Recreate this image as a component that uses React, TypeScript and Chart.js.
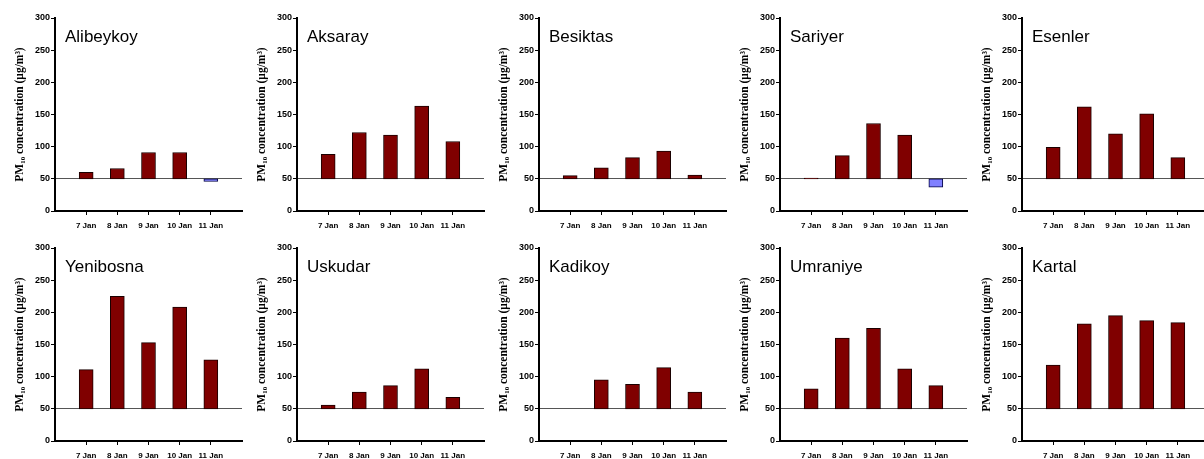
import { useEffect, useRef } from 'react';
import { Chart, registerables } from 'chart.js';

Chart.register(...registerables);

// ---- data ----
const days = ['7 Jan', '8 Jan', '9 Jan', '10 Jan', '11 Jan'];
const stations = ['Alibeykoy', 'Aksaray', 'Besiktas', 'Sariyer', 'Esenler', 'Yenibosna', 'Uskudar', 'Kadikoy', 'Umraniye', 'Kartal'];
const alibeykoy = [60, 66, 91, 91, 46];
const aksaray = [88, 122, 118, 163, 108];
const besiktas = [55, 67, 83, 93, 56];
const sariyer = [51, 86, 136, 118, 37];
const esenler = [99, 162, 120, 151, 83];
const yenibosna = [111, 225, 153, 208, 126];
const uskudar = [56, 76, 86, 112, 68];
const kadikoy = [50, 95, 88, 114, 76];
const umraniye = [81, 160, 175, 112, 86];
const kartal = [118, 182, 195, 187, 184];
const stationValues = [alibeykoy, aksaray, besiktas, sariyer, esenler, yenibosna, uskudar, kadikoy, umraniye, kartal];
const limitValue = 50;
const yMin = 0;
const yMax = 300;
const yStep = 50;
const yTitle = 'PM₁₀ concentration (μg/m³)';

const SANS = '"Liberation Sans", Arial, Helvetica, sans-serif';
const SERIF = '"Liberation Serif", "Times New Roman", serif';

const namePlugin = {
  id: 'panelName',
  afterDraw(chart: any, _args: any, opts: any) {
    const { ctx, chartArea } = chart;
    ctx.save();
    ctx.font = `17px ${SANS}`;
    ctx.fillStyle = '#000';
    ctx.textAlign = 'left';
    ctx.textBaseline = 'alphabetic';
    ctx.fillText(opts.text, chartArea.left + 10, chartArea.top + 24);
    ctx.restore();
  },
};

function Panel({ name, values, left, top }: { name: string; values: number[]; left: number; top: number }) {
  const ref = useRef<HTMLCanvasElement | null>(null);
  useEffect(() => {
    if (!ref.current) return;
    const labels = ['', ...days, ''];
    const data: any[] = [null, ...values.map((v) => [limitValue, v]), null];
    const bg = [null, ...values.map((v) => (v >= limitValue ? '#800000' : '#8080ff')), null];
    const bc = [null, ...values.map((v) => (v >= limitValue ? '#1a0000' : '#000040')), null];
    const chart = new Chart(ref.current, {
      type: 'bar',
      data: {
        labels,
        datasets: [
          {
            data,
            backgroundColor: bg as any,
            borderColor: bc as any,
            borderWidth: 1,
            borderSkipped: false,
            barThickness: 14,
          },
        ],
      },
      options: {
        responsive: false,
        animation: false,
        layout: { padding: { top: 18, left: 8, right: 0, bottom: 0 } },
        plugins: {
          legend: { display: false },
          tooltip: { enabled: false },
          panelName: { text: name },
        } as any,
        scales: {
          x: {
            offset: false,
            grid: {
              display: true,
              offset: false,
              drawOnChartArea: false,
              tickLength: 4,
              tickColor: (c: any) => (c.index === 0 || c.index === labels.length - 1 ? 'rgba(0,0,0,0)' : '#000'),
            },
            border: { color: '#000', width: 2 },
            ticks: {
              autoSkip: false,
              maxRotation: 0,
              padding: 6,
              color: '#000',
              font: { family: SANS, size: 8, weight: 'bold' },
            },
            afterFit: (s: any) => {
              s.height = 19;
            },
          },
          y: {
            min: yMin,
            max: yMax,
            ticks: {
              stepSize: yStep,
              padding: 1,
              color: '#000',
              font: { family: SANS, size: 9, weight: 'bold' },
            },
            grid: {
              color: (c: any) => (c.tick && c.tick.value === limitValue ? '#555' : 'rgba(0,0,0,0)'),
              lineWidth: 1,
              tickLength: 4,
              tickColor: '#000',
            },
            border: { color: '#000', width: 2 },
            title: {
              display: true,
              text: yTitle,
              color: '#000',
              padding: { top: 7, bottom: 0 },
              font: { family: SERIF, size: 11.5, weight: 'bold' },
            },
            afterFit: (s: any) => {
              s.width = 49;
            },
          },
        },
      },
      plugins: [namePlugin],
    });
    return () => chart.destroy();
  }, [name, values]);
  return (
    <div style={{ position: 'absolute', left, top, width: 250, height: 230 }}>
      <canvas ref={ref} width={250} height={230} style={{ display: 'block' }} />
    </div>
  );
}

export default function App() {
  return (
    <div style={{ position: 'fixed', left: 0, top: 0, width: 1204, height: 459, overflow: 'hidden', background: '#fff' }}>
      {stations.map((s, i) => (
        <Panel
          key={s}
          name={s}
          values={stationValues[i]}
          left={-2 + 241.75 * (i % 5)}
          top={i < 5 ? 0 : 230}
        />
      ))}
    </div>
  );
}
